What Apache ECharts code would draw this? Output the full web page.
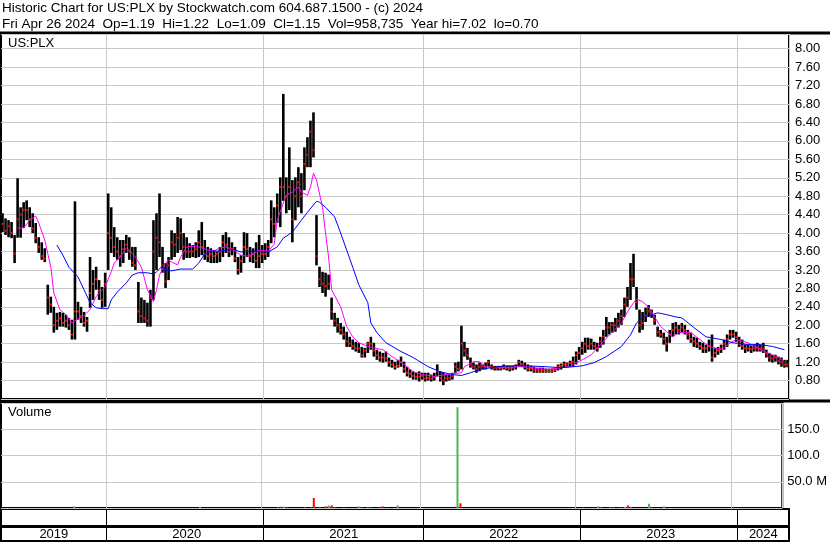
<!DOCTYPE html>
<html>
<head>
<meta charset="utf-8">
<script src="https://cdn.jsdelivr.net/npm/echarts@6/dist/echarts.min.js"></script>
<style>
  html, body { margin: 0; padding: 0; background: #fff; }
  #chart { width: 830px; height: 543px; }
</style>
</head>
<body>
<div id="chart"></div>
<script>
// weekly bars, first week ending 2019-05-03
const firstWeek = '2019-05-03';

const lows = [
  4.02, 3.96, 3.91, 3.89, 3.35, 3.90, 3.90, 4.11, 4.28, 4.13, 4.00, 3.78, 3.57, 3.42, 3.37, 2.23, 2.27, 1.84, 1.90, 1.97,
  1.97, 1.95, 1.90, 1.69, 1.69, 2.12, 2.05, 1.97, 1.86, 2.38, 2.55, 2.77, 2.55, 2.38, 2.40,
  3.20, 3.57, 3.48, 3.42, 3.27, 3.35, 3.57, 3.42, 3.27, 3.20, 2.05, 2.05, 2.05, 1.97, 1.97, 2.55, 3.20, 3.48, 3.14, 2.81,
  2.98, 3.42, 3.48, 3.57, 3.63, 3.42, 3.46, 3.46, 3.48, 3.46, 3.48, 3.52, 3.42, 3.37, 3.35, 3.35, 3.35, 3.37, 3.48, 3.57,
  3.48, 3.52, 3.37, 3.10, 3.14, 3.35, 3.48, 3.37, 3.35, 3.24, 3.24, 3.35,
  3.42, 3.48, 3.78, 3.91, 4.22, 4.13, 4.70, 4.43, 4.50, 3.80, 4.28, 4.56, 4.43, 4.93, 5.43, 5.43, 5.64, 3.30, 2.83, 2.70,
  2.62, 2.77, 2.12, 1.97, 1.84, 1.80, 1.69, 1.53, 1.53, 1.47, 1.43, 1.40, 1.30, 1.30, 1.40, 1.47, 1.32, 1.25, 1.21, 1.19,
  1.21, 1.10, 1.08, 1.04, 1.08, 1.10, 0.97, 0.89, 0.86, 0.82, 0.82, 0.78, 0.82,
  0.78, 0.80, 0.78, 0.80, 0.89, 0.78, 0.70, 0.78, 0.80, 0.82, 0.97, 1.00, 1.04, 1.32, 1.25, 1.08, 1.04, 0.97, 1.00, 1.04,
  1.04, 1.10, 1.04, 1.02, 1.02, 1.02, 1.04, 1.02, 1.00, 1.02, 1.04, 1.12, 1.10, 1.04, 1.00, 1.00, 0.97, 0.97, 0.97, 0.97,
  0.97, 0.97, 0.97, 0.99, 1.02, 1.04, 1.08, 1.10, 1.10, 1.10, 1.15, 1.25,
  1.36, 1.40, 1.47, 1.47, 1.47, 1.43, 1.51, 1.58, 1.75, 1.80, 1.84, 1.86, 1.95, 2.01, 2.18, 2.40, 2.55, 2.83, 2.34, 1.84,
  1.90, 2.07, 2.18, 2.16, 2.01, 1.75, 1.73, 1.58, 1.43, 1.62, 1.75, 1.80, 1.80, 1.84, 1.80, 1.69, 1.62, 1.53, 1.51, 1.47,
  1.40, 1.40, 1.43, 1.21, 1.30, 1.36, 1.40, 1.47, 1.53, 1.69, 1.73, 1.64,
  1.53, 1.47, 1.40, 1.43, 1.40, 1.43, 1.43, 1.43, 1.40, 1.30, 1.21, 1.19, 1.21, 1.15, 1.10, 1.08, 1.09
];

const highs = [
  4.43, 4.32, 4.28, 4.24, 3.96, 5.19, 4.56, 4.67, 4.71, 4.56, 4.43, 4.22, 3.91, 3.80, 3.67, 2.88, 2.62, 2.40, 2.27, 2.29,
  2.27, 2.23, 2.16, 2.12, 4.69, 2.51, 2.40, 2.29, 2.18, 3.48, 3.20, 3.27, 2.98, 2.83, 3.14,
  4.86, 4.56, 4.13, 3.91, 3.85, 3.85, 3.96, 3.91, 3.70, 3.70, 2.94, 2.60, 2.55, 2.49, 2.77, 4.28, 4.43, 4.86, 3.70, 3.35,
  3.48, 4.06, 4.00, 4.35, 4.32, 4.00, 3.91, 3.78, 3.74, 3.80, 4.06, 4.24, 3.85, 3.70, 3.67, 3.63, 3.60, 3.70, 3.96, 4.02,
  3.91, 3.80, 3.70, 3.48, 3.52, 4.02, 4.00, 3.70, 3.67, 3.80, 3.96, 3.74,
  3.78, 3.85, 4.71, 4.56, 4.86, 5.21, 7.02, 5.21, 5.86, 5.15, 5.21, 5.43, 5.30, 5.86, 6.08, 6.44, 6.62, 4.39, 3.27, 3.16,
  3.14, 3.10, 2.60, 2.27, 2.16, 2.05, 1.97, 1.86, 1.75, 1.69, 1.64, 1.62, 1.53, 1.51, 1.64, 1.75, 1.62, 1.47, 1.43, 1.40,
  1.43, 1.30, 1.25, 1.21, 1.25, 1.32, 1.21, 1.10, 1.04, 1.00, 0.97, 1.00, 0.97,
  0.97, 0.97, 0.93, 0.97, 1.15, 1.00, 0.97, 0.93, 0.93, 0.97, 1.19, 1.21, 1.99, 1.64, 1.51, 1.30, 1.19, 1.15, 1.19, 1.15,
  1.19, 1.25, 1.15, 1.12, 1.12, 1.12, 1.15, 1.12, 1.12, 1.12, 1.15, 1.25, 1.23, 1.19, 1.15, 1.12, 1.10, 1.08, 1.08, 1.08,
  1.06, 1.06, 1.06, 1.08, 1.15, 1.17, 1.21, 1.19, 1.23, 1.32, 1.43, 1.53,
  1.64, 1.73, 1.73, 1.71, 1.64, 1.62, 1.75, 1.90, 2.18, 2.07, 2.07, 2.16, 2.27, 2.34, 2.60, 2.83, 3.35, 3.55, 2.83, 2.34,
  2.29, 2.38, 2.44, 2.34, 2.23, 1.97, 1.90, 1.84, 1.75, 1.90, 2.05, 2.07, 2.01, 2.05, 2.01, 1.90, 1.84, 1.75, 1.73, 1.64,
  1.62, 1.58, 1.69, 1.80, 1.51, 1.53, 1.58, 1.69, 1.80, 1.90, 1.90, 1.86,
  1.75, 1.69, 1.58, 1.58, 1.56, 1.58, 1.62, 1.58, 1.62, 1.47, 1.40, 1.36, 1.36, 1.32, 1.30, 1.25, 1.25
];

const closes = [
  4.20, 4.05, 4.15, 4.00, 3.55, 4.30, 4.40, 4.50, 4.50, 4.30, 4.10, 3.90, 3.70, 3.50, 3.45, 2.60, 2.45, 2.00, 2.10, 2.15,
  2.05, 2.10, 2.00, 1.80, 2.30, 2.30, 2.20, 2.05, 2.10, 2.70, 2.90, 3.00, 2.75, 2.55, 2.90,
  4.00, 3.90, 3.70, 3.60, 3.50, 3.65, 3.75, 3.60, 3.35, 3.30, 2.30, 2.20, 2.15, 2.10, 2.60, 3.60, 3.90, 3.80, 3.30, 2.95,
  3.30, 3.80, 3.75, 3.90, 4.00, 3.70, 3.60, 3.60, 3.60, 3.65, 3.80, 3.70, 3.55, 3.50, 3.55, 3.50, 3.55, 3.60, 3.80, 3.75,
  3.60, 3.65, 3.45, 3.20, 3.40, 3.70, 3.65, 3.50, 3.55, 3.40, 3.50, 3.55,
  3.55, 3.70, 4.30, 4.20, 4.60, 5.00, 5.00, 4.80, 5.00, 4.30, 4.80, 5.10, 4.80, 5.50, 5.70, 6.20, 5.80, 3.50, 3.00, 2.90,
  2.85, 2.90, 2.30, 2.10, 2.00, 1.90, 1.80, 1.65, 1.60, 1.55, 1.50, 1.50, 1.35, 1.45, 1.60, 1.60, 1.45, 1.35, 1.30, 1.30,
  1.28, 1.20, 1.15, 1.10, 1.12, 1.20, 1.05, 0.97, 0.95, 0.90, 0.88, 0.88, 0.90,
  0.85, 0.86, 0.84, 0.87, 1.00, 0.85, 0.80, 0.85, 0.85, 0.90, 1.10, 1.05, 1.60, 1.45, 1.35, 1.15, 1.10, 1.05, 1.10, 1.12,
  1.10, 1.20, 1.10, 1.08, 1.08, 1.06, 1.10, 1.07, 1.05, 1.08, 1.10, 1.20, 1.15, 1.10, 1.05, 1.06, 1.02, 1.02, 1.00, 1.02,
  1.00, 1.00, 1.01, 1.03, 1.10, 1.12, 1.15, 1.15, 1.18, 1.20, 1.35, 1.40,
  1.50, 1.60, 1.55, 1.60, 1.55, 1.50, 1.65, 1.75, 1.95, 1.95, 2.00, 2.00, 2.10, 2.20, 2.45, 2.60, 3.00, 3.00, 2.50, 2.00,
  2.05, 2.20, 2.30, 2.25, 2.10, 1.85, 1.80, 1.70, 1.60, 1.80, 1.90, 1.95, 1.90, 1.95, 1.90, 1.80, 1.70, 1.65, 1.60, 1.55,
  1.50, 1.50, 1.55, 1.30, 1.40, 1.45, 1.50, 1.60, 1.70, 1.80, 1.80, 1.75,
  1.60, 1.55, 1.50, 1.50, 1.48, 1.50, 1.52, 1.50, 1.50, 1.38, 1.30, 1.28, 1.30, 1.22, 1.20, 1.15, 1.15
];

// moving averages: [week index, price]
const maShort = [
  [5, 4.11], [7, 4.11], [9, 4.28], [11, 4.37], [12, 4.22], [14, 3.85], [16, 3.26], [17, 2.70], [19, 2.34], [21, 2.23],
  [23, 2.05], [25, 2.14], [27, 2.21], [29, 2.34], [31, 2.62], [32, 2.70], [34, 2.83], [36, 3.16], [37, 3.35], [39, 3.48],
  [41, 3.68], [42, 3.63], [44, 3.48], [46, 3.26], [48, 2.77], [50, 2.51], [51, 2.77], [52, 3.09], [54, 3.35], [55, 3.42],
  [56, 3.37], [58, 3.31], [59, 3.48], [61, 3.70], [64, 3.72], [65, 3.70], [68, 3.63], [70, 3.61], [72, 3.68], [74, 3.70],
  [76, 3.65], [79, 3.52], [81, 3.50], [83, 3.55], [85, 3.63], [88, 3.61], [90, 3.76], [91, 4.28], [93, 4.65], [94, 4.82],
  [96, 4.89], [98, 5.00], [99, 4.89], [101, 4.82], [102, 5.00], [103, 5.30], [104, 5.15], [106, 4.56], [107, 4.00], [108, 3.48],
  [109, 2.77], [112, 2.40], [114, 1.97], [116, 1.75], [118, 1.62], [121, 1.54], [123, 1.51], [126, 1.47], [129, 1.32], [133, 1.15],
  [136, 0.99], [139, 0.93], [143, 0.89], [147, 0.93], [152, 0.97], [153, 1.10], [156, 1.21], [158, 1.21], [160, 1.10], [162, 1.08],
  [167, 1.08], [170, 1.10], [174, 1.10], [177, 1.06], [181, 1.04], [185, 1.08], [188, 1.10], [190, 1.19], [192, 1.25], [195, 1.36],
  [198, 1.58], [201, 1.79], [205, 2.05], [207, 2.29], [209, 2.49], [210, 2.57], [212, 2.51], [214, 2.40], [216, 2.18], [218, 1.97],
  [220, 1.86], [222, 1.75], [224, 1.84], [228, 1.84], [231, 1.69], [234, 1.54], [238, 1.47], [241, 1.62], [243, 1.69], [247, 1.62],
  [250, 1.51], [253, 1.41], [257, 1.30], [259, 1.21]
];

const maLong = [
  [18, 3.74], [20, 3.52], [22, 3.26], [25, 3.05], [27, 2.77], [29, 2.49], [31, 2.38], [33, 2.36], [35, 2.36], [36, 2.55],
  [38, 2.72], [41, 2.92], [43, 3.09], [45, 3.14], [48, 3.14], [50, 3.11], [51, 3.16], [53, 3.29], [54, 3.20], [56, 3.18],
  [59, 3.22], [63, 3.22], [65, 3.35], [67, 3.55], [69, 3.61], [72, 3.61], [76, 3.65], [79, 3.59], [83, 3.61], [88, 3.59],
  [91, 3.70], [93, 3.89], [96, 4.02], [99, 4.28], [101, 4.45], [104, 4.69], [105, 4.67], [107, 4.56], [110, 4.35], [112, 4.00],
  [114, 3.63], [116, 3.26], [118, 2.88], [121, 2.49], [122, 2.05], [124, 1.84], [127, 1.62], [132, 1.43], [136, 1.30], [141, 1.10],
  [145, 0.99], [149, 0.93], [152, 0.91], [155, 0.97], [158, 1.04], [162, 1.08], [167, 1.12], [174, 1.12], [180, 1.10], [185, 1.08],
  [189, 1.10], [192, 1.12], [196, 1.19], [200, 1.32], [205, 1.54], [208, 1.79], [210, 2.05], [212, 2.16], [215, 2.23], [217, 2.27],
  [220, 2.23], [223, 2.18], [225, 2.16], [229, 1.95], [233, 1.75], [238, 1.69], [242, 1.62], [247, 1.58], [251, 1.58], [255, 1.54],
  [259, 1.47]
];

// volume in millions, only the weeks that show a visible bar: [week index, volume]
const volumeUp = [
  [24, 3], [66, 2], [92, 1], [94, 2.5], [101, 1], [106, 1], [109, 5], [111, 1], [119, 3], [120, 1],
  [122, 1], [132, 5], [152, 192], [199, 3], [200, 1], [203, 1], [204, 1], [208, 2], [216, 8], [221, 3]
];
const volumeDown = [
  [93, 2.5], [95, 1], [103, 1], [104, 19], [108, 3], [110, 5], [114, 1], [123, 1], [126, 1], [127, 3],
  [153, 9], [194, 1], [206, 1], [207, 1], [209, 5], [210, 2], [217, 1]
];

const priceTicks = { min: 0.4, max: 8.32, step: 0.4 };
const volumeTicks = { min: 0, max: 200, step: 50 };

const titleLine = 'Historic Chart for US:PLX by Stockwatch.com 604.687.1500 - (c) 2024';
const quoteLine = 'Fri Apr 26 2024  Op=1.19  Hi=1.22  Lo=1.09  Cl=1.15  Vol=958,735  Year hi=7.02  lo=0.70';

// week categories
const t0 = Date.parse(firstWeek + 'T00:00:00Z');
const weeks = lows.map((_, i) => new Date(t0 + i * 7 * 864e5).toISOString().slice(0, 10));
const bars = lows.map((lo, i) => [i, lo, highs[i], closes[i]]);

function yearStart(i) {
  return i > 0 && i < weeks.length && weeks[i].slice(0, 4) !== weeks[i - 1].slice(0, 4);
}
const firstOf = {}, lastOf = {};
weeks.forEach((d, i) => {
  const y = d.slice(0, 4);
  if (!(y in firstOf)) firstOf[y] = i;
  lastOf[y] = i;
});
const yearMid = {};
Object.keys(firstOf).forEach(y => { yearMid[Math.round((firstOf[y] + lastOf[y]) / 2)] = y; });

const gray = '#c8c8c8';
const font = '"Liberation Sans", Arial, sans-serif';

function xAxisFor(gridIndex, lineColor, extra) {
  return Object.assign({
    type: 'category',
    gridIndex: gridIndex,
    data: weeks,
    boundaryGap: true,
    axisLine: { show: false },
    axisTick: { show: false },
    axisLabel: { show: false },
    splitLine: { show: true, interval: (i) => yearStart(i), lineStyle: { color: lineColor, width: 1 } }
  }, extra || {});
}

function volumeBar(color) {
  return function (params, api) {
    const base = api.coord([api.value(0), 0]);
    const top = api.coord([api.value(0), api.value(1)]);
    return {
      type: 'rect',
      shape: { x: top[0] - 1, y: top[1], width: 2, height: base[1] - top[1] },
      style: { fill: color }
    };
  };
}

const chart = echarts.init(document.getElementById('chart'), null, { renderer: 'canvas' });
chart.setOption({
  animation: false,
  backgroundColor: '#fff',
  textStyle: { fontFamily: font, color: '#000' },
  title: [
    {
      text: titleLine, subtext: quoteLine, left: 2, top: 1, itemGap: 1, padding: 0,
      textStyle: { fontSize: 13.5, fontWeight: 'normal', color: '#000', lineHeight: 15 },
      subtextStyle: { fontSize: 13.5, color: '#000', lineHeight: 15 }
    },
    { text: 'US:PLX', left: 8, top: 37, padding: 0, textStyle: { fontSize: 13, fontWeight: 'normal', color: '#000' } },
    { text: 'Volume', left: 8, top: 406, padding: 0, textStyle: { fontSize: 13, fontWeight: 'normal', color: '#000' } }
  ],
  grid: [
    { left: 1, right: 41, top: 34, height: 365, show: true, borderColor: '#000', borderWidth: 2 },
    { left: 1, right: 41, top: 403, height: 105, show: true, borderColor: '#000', borderWidth: 2 },
    { left: 1, right: 41, top: 509, height: 17, show: true, borderColor: '#000', borderWidth: 2 },
    { left: 1, right: 41, top: 527, height: 14, show: true, borderColor: '#000', borderWidth: 2 }
  ],
  xAxis: [
    xAxisFor(0, gray),
    xAxisFor(1, gray),
    xAxisFor(2, '#000'),
    xAxisFor(3, '#000', {
      position: 'top',
      axisLabel: {
        show: true, inside: true, margin: 1, fontSize: 13, color: '#000',
        interval: (i) => i in yearMid,
        formatter: (v) => v.slice(0, 4)
      }
    })
  ],
  yAxis: [
    {
      type: 'value', gridIndex: 0, position: 'right',
      min: priceTicks.min, max: priceTicks.max, interval: priceTicks.step,
      axisLine: { show: false }, axisTick: { show: false },
      axisLabel: {
        margin: 6, fontSize: 13, color: '#000',
        formatter: (v) => (v < 0.7 || v > 8.1) ? '' : v.toFixed(2)
      },
      splitLine: { lineStyle: { color: gray, width: 1 } }
    },
    {
      type: 'value', gridIndex: 1, position: 'right',
      min: volumeTicks.min, max: volumeTicks.max, interval: volumeTicks.step,
      axisLine: { show: false }, axisTick: { show: false },
      axisLabel: {
        margin: 5, fontSize: 13, color: '#000',
        formatter: (v) => v === 50 ? '50.0 M' : (v === 100 || v === 150) ? v.toFixed(1) : ''
      },
      splitLine: { lineStyle: { color: gray, width: 1 } }
    },
    { type: 'value', gridIndex: 2, show: false },
    { type: 'value', gridIndex: 3, show: false }
  ],
  graphic: [
    { type: 'line', silent: true, shape: { x1: 0, y1: 33, x2: 830, y2: 33 }, style: { stroke: '#000', lineWidth: 3 } },
    { type: 'line', silent: true, shape: { x1: 0, y1: 401, x2: 830, y2: 401 }, style: { stroke: '#000', lineWidth: 3 } }
  ],
  series: [
    {
      name: 'US:PLX',
      type: 'custom',
      xAxisIndex: 0, yAxisIndex: 0,
      data: bars,
      encode: { x: 0, y: [1, 2, 3] },
      clip: true,
      renderItem: function (params, api) {
        const lo = api.coord([api.value(0), api.value(1)]);
        const hi = api.coord([api.value(0), api.value(2)]);
        const cl = api.coord([api.value(0), api.value(3)]);
        return {
          type: 'group',
          children: [
            { type: 'line', shape: { x1: lo[0], y1: lo[1], x2: hi[0], y2: hi[1] }, style: { stroke: '#000', lineWidth: 2.6 } },
            { type: 'rect', shape: { x: cl[0] - 1, y: cl[1] - 1, width: 2, height: 2 }, style: { fill: '#ff0000' } }
          ]
        };
      }
    },
    {
      name: 'MA short', type: 'line', xAxisIndex: 0, yAxisIndex: 0,
      data: maShort, showSymbol: false, symbol: 'none',
      lineStyle: { color: '#ff00ff', width: 1 }, z: 3
    },
    {
      name: 'MA long', type: 'line', xAxisIndex: 0, yAxisIndex: 0,
      data: maLong, showSymbol: false, symbol: 'none',
      lineStyle: { color: '#0000ff', width: 1 }, z: 3
    },
    {
      name: 'Volume up', type: 'custom', xAxisIndex: 1, yAxisIndex: 1,
      data: volumeUp, encode: { x: 0, y: 1 }, clip: true,
      renderItem: volumeBar('#4cb84c')
    },
    {
      name: 'Volume down', type: 'custom', xAxisIndex: 1, yAxisIndex: 1,
      data: volumeDown, encode: { x: 0, y: 1 }, clip: true,
      renderItem: volumeBar('#ff0000')
    }
  ]
});
</script>
</body>
</html>
